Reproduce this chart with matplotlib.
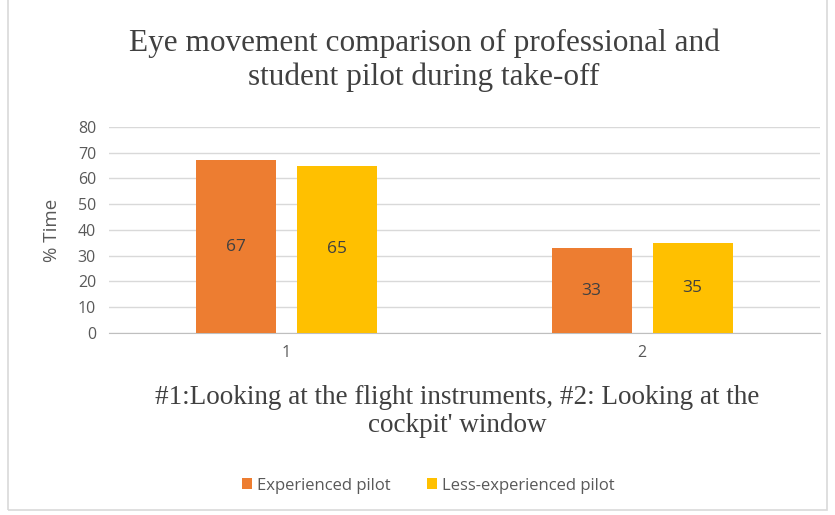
import matplotlib.pyplot as plt
import numpy as np
from matplotlib.patches import Rectangle

categories = ["1", "2"]
experienced = [67, 33]
less_experienced = [65, 35]
series_names = ["Experienced pilot", "Less-experienced pilot"]
yticks = [0, 10, 20, 30, 40, 50, 60, 70, 80]

fig = plt.figure(figsize=(8.35, 5.15), dpi=100)
ax = fig.add_axes([0.13, 0.3534, 0.852, 0.4])

x = np.arange(len(categories))
w = 0.225
off = 0.142
b1 = ax.bar(x - off, experienced, w, color="#ED7D31", label=series_names[0], zorder=3)
b2 = ax.bar(x + off, less_experienced, w, color="#FFC000", label=series_names[1], zorder=3)
for bars in (b1, b2):
    ax.bar_label(bars, label_type="center", color="#404040", fontsize=12.5, family="Open Sans")

ax.set_xlim(-0.5, 1.5)
ax.set_ylim(0, 80)
ax.set_yticks(yticks)
ax.set_xticks(x)
ax.set_xticklabels(categories)
ax.tick_params(axis="both", length=0, labelsize=11.5, colors="#595959", pad=9)
for lab in ax.get_xticklabels() + ax.get_yticklabels():
    lab.set_family("Open Sans")
ax.yaxis.grid(True, color="#d9d9d9", lw=1, zorder=0)
for s in ["top", "right", "left"]:
    ax.spines[s].set_visible(False)
ax.spines["bottom"].set_color("#bfbfbf")
ax.set_ylabel("% Time", fontsize=13.5, color="#595959", family="Open Sans", labelpad=12)

fig.text(0.508, 0.883, "Eye movement comparison of professional and\nstudent pilot during take-off",
         ha="center", va="center", fontsize=22.5, family="Liberation Serif", color="#404040",
         linespacing=1.2)
fig.text(0.548, 0.201, "#1:Looking at the flight instruments, #2: Looking at the\ncockpit' window",
         ha="center", va="center", fontsize=19.5, family="Liberation Serif", color="#404040",
         linespacing=1.2)

fig.legend(loc="center", bbox_to_anchor=(0.513, 0.057), ncol=2, frameon=False,
           prop={"family": "Open Sans", "size": 12}, labelcolor="#595959",
           handlelength=0.6, handleheight=0.6, columnspacing=2.2, handletextpad=0.3)

fig.patches.append(Rectangle((0.01, 0.01), 0.98, 1.2, transform=fig.transFigure,
                             fill=False, edgecolor="#d9d9d9", lw=1.2))

fig.savefig("out.png", dpi=100)
